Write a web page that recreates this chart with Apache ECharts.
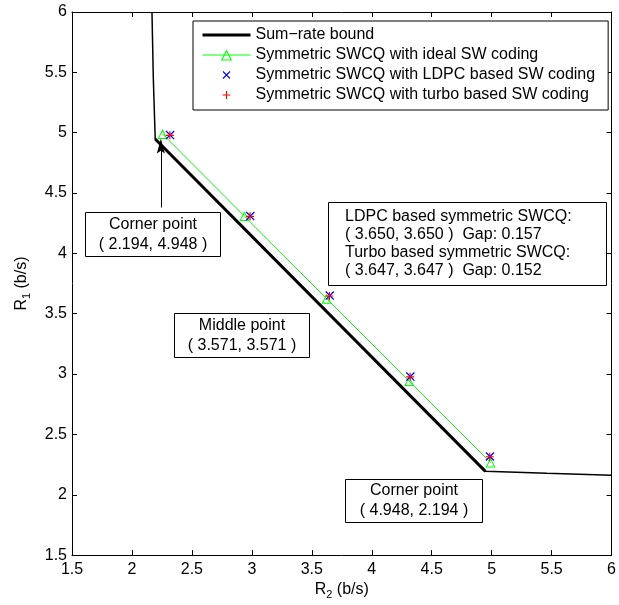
<!DOCTYPE html>
<html>
<head>
<meta charset="utf-8">
<script src="https://cdn.jsdelivr.net/npm/echarts@6/dist/echarts.min.js"></script>
<style>
  html, body { margin: 0; padding: 0; background: #fff; }
  #js-echarts { width: 619px; height: 605px; }
</style>
</head>
<body>
<div id="js-echarts"></div>
<script>
// axis ticks
const tickValues = [1.5, 2, 2.5, 3, 3.5, 4, 4.5, 5, 5.5, 6];

// sum-rate bound (R2, R1)
const boundR2 = [2.167, 2.178, 2.194, 4.948, 5.46, 6];
const boundR1 = [6, 5.46, 4.948, 2.194, 2.178, 2.162];

// symmetric SWCQ points
const idealR2 = [2.255, 2.938, 3.623, 4.312, 4.991];
const idealR1 = [4.990, 4.309, 3.625, 2.942, 2.267];
const ldpcR2 = [2.318, 2.987, 3.650, 4.322, 4.986];
const ldpcR1 = [4.980, 4.309, 3.650, 2.979, 2.317];
const turboR2 = [2.316, 2.985, 3.647, 4.320, 4.984];
const turboR1 = [4.978, 4.307, 3.647, 2.977, 2.315];

// arrow to the corner point
const arrowR2 = [2.241, 2.241];
const arrowR1 = [4.38, 4.89];

const names = [
  'Sum\u2212rate bound',
  'Symmetric SWCQ with ideal SW coding',
  'Symmetric SWCQ with LDPC based SW coding',
  'Symmetric SWCQ with turbo based SW coding'
];

const zip = (xs, ys) => xs.map((x, i) => [x, ys[i]]);

const font = 'Liberation Sans, Arial, Helvetica, sans-serif';
// marker shapes
const triPath = 'path://M5,0L10,10L0,10ZM5,2.24L1.62,9L8.38,9Z';
const plusPath = 'path://M4.25,0h1.5v10h-1.5zM0,4.25h10v1.5h-10z';
const crossPath = 'path://M0,1L1,0L10,9L9,10ZM9,0L10,1L1,10L0,9Z';
const plusIcon = 'path://M-4,-4M14,14M4.25,0h1.5v10h-1.5zM0,4.25h10v1.5h-10z';
const crossIcon = 'path://M-4,-4M14,14M0,1L1,0L10,9L9,10ZM9,0L10,1L1,10L0,9Z';
const arrowPath = 'path://M5,0L10,16L5,13L0,16Z';

const chartDom = document.getElementById('js-echarts');
const chart = echarts.init(chartDom);

const axisCommon = {
  type: 'value',
  min: 1.5,
  max: 6,
  interval: 0.5,
  axisLine: { show: true, onZero: false, lineStyle: { color: '#000', width: 1 } },
  axisTick: { show: true, inside: true, length: 5, lineStyle: { color: '#000' }, customValues: tickValues },
  splitLine: { show: false }
};

const richName = {
  a: { fontSize: 16, fontFamily: font, color: '#000', lineHeight: 20 },
  s: { fontSize: 11, fontFamily: font, color: '#000', lineHeight: 4, verticalAlign: 'bottom' }
};

function box(x, y, w, h, lines, align, textX, lineHeight) {
  return {
    type: 'group',
    children: [
      {
        type: 'rect',
        shape: { x: x, y: y, width: w, height: h },
        style: { fill: '#fff', stroke: '#000', lineWidth: 1 }
      },
      {
        type: 'text',
        style: {
          x: textX,
          y: y + h / 2,
          text: lines.join('\n'),
          align: align,
          verticalAlign: 'middle',
          lineHeight: lineHeight,
          font: '16px ' + font,
          fill: '#000'
        }
      }
    ]
  };
}

const option = {
  animation: false,
  backgroundColor: '#fff',
  grid: { left: 72, right: 4, top: 12, bottom: 49 },
  legend: {
    orient: 'vertical',
    left: 193,
    top: 21,
    itemWidth: 48,
    itemHeight: 14,
    itemGap: 2,
    padding: [5, 13, 6, 9],
    borderColor: '#000',
    borderWidth: 1,
    backgroundColor: '#fff',
    selectedMode: false,
    textStyle: { color: '#000', fontSize: 16, fontFamily: font, lineHeight: 18 },
    data: [
      { name: names[0], icon: 'path://M0,0h48v3h-48z' },
      { name: names[1], lineStyle: { width: 1 } },
      { name: names[2], icon: crossIcon },
      { name: names[3], icon: plusIcon }
    ]
  },
  xAxis: [
    Object.assign({}, axisCommon, {
      position: 'bottom',
      name: '{a|R}{s|2}{a| (b/s)}',
      nameLocation: 'middle',
      nameGap: 22,
      nameTextStyle: { rich: richName },
      axisLabel: { color: '#000', fontSize: 16, fontFamily: font, margin: 6, customValues: tickValues }
    }),
    Object.assign({}, axisCommon, {
      position: 'top',
      axisLabel: { show: false }
    })
  ],
  yAxis: [
    Object.assign({}, axisCommon, {
      position: 'left',
      name: '{a|R}{s|1}{a| (b/s)}',
      nameLocation: 'middle',
      nameGap: 40,
      nameRotate: 90,
      nameTextStyle: { rich: richName },
      axisLabel: { color: '#000', fontSize: 16, fontFamily: font, margin: 5, customValues: tickValues }
    }),
    Object.assign({}, axisCommon, {
      position: 'right',
      axisLabel: { show: false }
    })
  ],
  series: [
    {
      name: 'bound tails',
      type: 'line',
      data: zip(boundR2, boundR1),
      symbol: 'none',
      lineStyle: { color: '#000', width: 1.5 },
      z: 1,
      markLine: {
        silent: true,
        symbol: ['none', 'arrow'],
        label: { show: false },
        lineStyle: { color: '#000', width: 1, type: 'solid' },
        data: [[
          { coord: [arrowR2[0], arrowR1[0]], symbol: 'none' },
          { coord: [arrowR2[1], arrowR1[1]], symbol: arrowPath, symbolSize: [8, 15] }
        ]]
      }
    },
    {
      name: names[0],
      type: 'line',
      data: zip(boundR2, boundR1).slice(2, 4),
      symbol: 'none',
      lineStyle: { color: '#000', width: 3 },
      itemStyle: { color: '#000' },
      z: 2
    },
    {
      name: names[1],
      type: 'line',
      data: zip(idealR2, idealR1),
      symbol: triPath,
      symbolSize: 10,
      showAllSymbol: true,
      lineStyle: { color: '#00ff00', width: 1 },
      itemStyle: { color: '#00ff00' },
      z: 3
    },
    {
      name: names[2],
      type: 'scatter',
      data: zip(ldpcR2, ldpcR1),
      symbol: crossPath,
      symbolSize: 9,
      itemStyle: { color: '#0000ff', opacity: 1 },
      z: 4
    },
    {
      name: names[3],
      type: 'scatter',
      data: zip(turboR2, turboR1),
      symbol: plusPath,
      symbolSize: 8,
      itemStyle: { color: '#ff0000', opacity: 1 },
      z: 5
    }
  ],
  graphic: [
    box(85.5, 212.5, 135, 44, ['Corner point', '( 2.194, 4.948 )'], 'center', 153, 20),
    box(174.5, 313.5, 135, 44, ['Middle point', '( 3.571, 3.571 )'], 'center', 242, 20),
    box(328.5, 202.5, 278, 83, [
      'LDPC based symmetric SWCQ:',
      '( 3.650, 3.650 )  Gap: 0.157',
      'Turbo based symmetric SWCQ:',
      '( 3.647, 3.647 )  Gap: 0.152'
    ], 'left', 345, 18),
    box(345.5, 479.5, 137, 43, ['Corner point', '( 4.948, 2.194 )'], 'center', 414, 20)
  ]
};

chart.setOption(option);
</script>
</body>
</html>
